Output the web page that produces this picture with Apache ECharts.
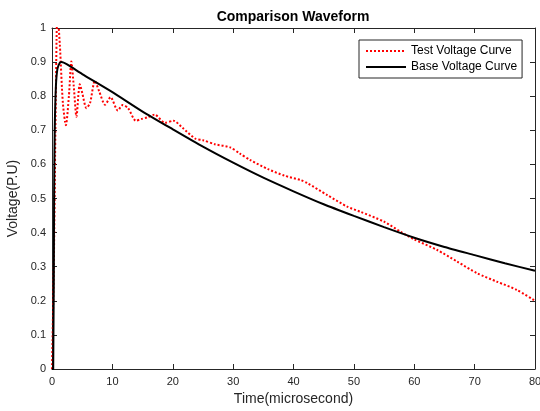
<!DOCTYPE html>
<html>
<head>
<meta charset="utf-8">
<script src="https://cdn.jsdelivr.net/npm/echarts@6/dist/echarts.min.js"></script>
<style>
  html, body { margin: 0; padding: 0; background: #fff; }
  #chart { width: 540px; height: 411px; }
</style>
</head>
<body>
<div id="chart"></div>
<script>
// values
var testTime = [0, 0.3, 0.6, 0.9, 1.3, 1.8, 2.3, 2.8, 3.2, 3.6, 4.05, 4.6, 5.0, 5.7, 6.3, 7.1, 7.8, 8.8, 9.7, 10.9,
  11.7, 12.6, 13.9, 14.8, 15.8, 17.0, 18.7, 20.1, 21.7, 23.7, 25.0, 27.0, 29.5, 31.1, 32.8, 35.8, 38.5, 41.2, 42.3, 45.6,
  48.9, 51.1, 55.0, 57.7, 59.9, 63.8, 67.1, 70.4, 73.7, 77.0, 80.0];
var testVolt = [0, 0.3, 0.75, 1.05, 0.95, 0.78, 0.715, 0.80, 0.902, 0.83, 0.74, 0.835, 0.81, 0.765, 0.78, 0.845, 0.815, 0.775, 0.797, 0.758,
  0.774, 0.765, 0.728, 0.733, 0.738, 0.746, 0.722, 0.728, 0.706, 0.676, 0.671, 0.659, 0.65, 0.632, 0.613, 0.586, 0.567, 0.554, 0.545, 0.51,
  0.476, 0.461, 0.432, 0.403, 0.381, 0.349, 0.315, 0.281, 0.256, 0.232, 0.2];

var baseTime = [0, 0.2, 0.35, 0.45, 0.65, 0.9, 1.3, 1.6, 2.5, 5, 10, 15, 20, 25, 30, 35, 40, 45, 50, 55, 60, 65, 70, 75, 80];
var baseVolt = [0, 0, 0.5, 0.7, 0.83, 0.88, 0.898, 0.9, 0.893, 0.865, 0.812, 0.755, 0.703, 0.652, 0.605, 0.561, 0.521, 0.483, 0.449, 0.416, 0.385, 0.358, 0.334, 0.31, 0.288];

function pairs(t, v) {
  var out = [];
  for (var i = 0; i < t.length; i++) out.push([t[i], v[i]]);
  return out;
}

var FONT = 'Liberation Sans, Arial, sans-serif';
var AX = '#262626';

var myChart = echarts.init(document.getElementById('chart'));
myChart.setOption({
  animation: false,
  title: {
    text: 'Comparison Waveform',
    left: 288,
    top: 5,
    textAlign: 'center',
    textStyle: { fontFamily: FONT, fontSize: 14, fontWeight: 'bold', color: '#000' }
  },
  grid: { left: 52, right: 5, top: 28, bottom: 42, outerBoundsMode: 'none' },
  legend: {
    left: 359,
    top: 40,
    orient: 'vertical',
    backgroundColor: '#fff',
    borderColor: AX,
    borderWidth: 1,
    borderRadius: 0,
    padding: [5, 5, 5, 6],
    itemGap: 4,
    itemWidth: 40,
    itemHeight: 14,
    itemStyle: { opacity: 0 },
    textStyle: { fontFamily: FONT, fontSize: 12, color: '#000' },
    data: ['Test Voltage Curve', 'Base Voltage Curve']
  },
  xAxis: [
    {
      type: 'value', min: 0, max: 80, interval: 10,
      name: 'Time(microsecond)', nameLocation: 'middle', nameGap: 20,
      nameTextStyle: { fontFamily: FONT, fontSize: 14, color: AX },
      axisLine: { onZero: false, lineStyle: { color: AX, width: 1 } },
      axisTick: { inside: true, length: 5, lineStyle: { color: AX } },
      axisLabel: { fontFamily: FONT, fontSize: 11, color: AX, margin: 7 },
      splitLine: { show: false }
    },
    {
      type: 'value', min: 0, max: 80, interval: 10, position: 'top',
      axisLine: { onZero: false, lineStyle: { color: AX, width: 1 } },
      axisTick: { inside: true, length: 5, lineStyle: { color: AX } },
      axisLabel: { show: false },
      splitLine: { show: false }
    }
  ],
  yAxis: [
    {
      type: 'value', min: 0, max: 1, interval: 0.1,
      name: 'Voltage(P.U)', nameLocation: 'middle', nameGap: 30,
      nameTextStyle: { fontFamily: FONT, fontSize: 14, color: AX },
      axisLine: { show: true, onZero: false, lineStyle: { color: AX, width: 1 } },
      axisTick: { show: true, inside: true, length: 5, lineStyle: { color: AX } },
      axisLabel: {
        fontFamily: FONT, fontSize: 11, color: AX, margin: 6,
        formatter: function (v) { return String(Math.round(v * 10) / 10); }
      },
      splitLine: { show: false }
    },
    {
      type: 'value', min: 0, max: 1, interval: 0.1, position: 'right',
      axisLine: { show: true, onZero: false, lineStyle: { color: AX, width: 1 } },
      axisTick: { show: true, inside: true, length: 5, lineStyle: { color: AX } },
      axisLabel: { show: false },
      splitLine: { show: false }
    }
  ],
  series: [
    {
      name: 'Test Voltage Curve',
      type: 'line',
      data: pairs(testTime, testVolt),
      symbol: 'none',
      smooth: 0.25,
      clip: true,
      lineStyle: { color: '#ff0000', width: 2, type: [2, 2] },
      itemStyle: { color: '#ff0000' },
      z: 2
    },
    {
      name: 'Base Voltage Curve',
      type: 'line',
      data: pairs(baseTime, baseVolt),
      symbol: 'none',
      smooth: 0.2,
      clip: true,
      lineStyle: { color: '#000', width: 2 },
      itemStyle: { color: '#000' },
      z: 3
    }
  ]
});
</script>
</body>
</html>
